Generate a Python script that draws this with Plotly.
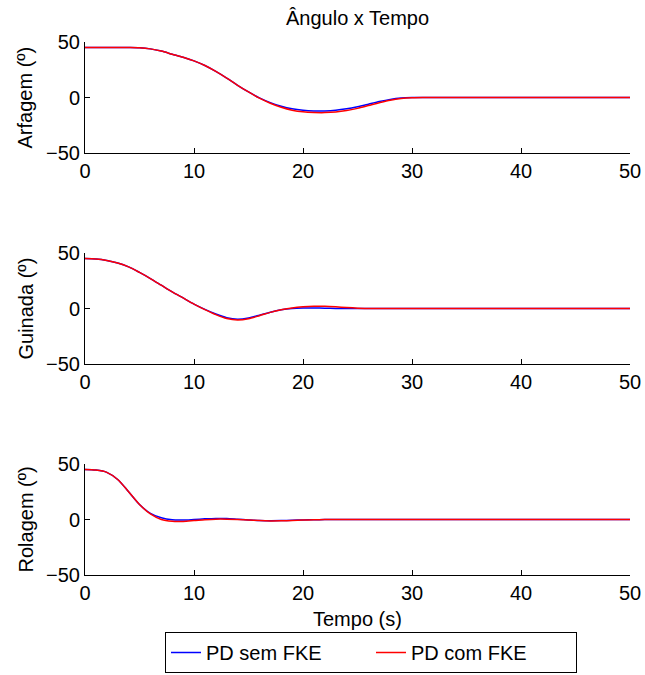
import plotly.graph_objects as go

# ---- data ----
t_pitch = [0, 1, 2, 3, 4, 5, 6, 7, 8, 9, 10, 11, 12, 13, 14, 15, 16, 17, 18, 19, 20,
           21, 22, 23, 24, 25, 26, 27, 28, 29, 30, 31, 35, 40, 45, 50]
pitch_sem = [45, 45, 45, 45, 45, 44.8, 43.8, 41.8, 39, 36.3, 33, 28.8, 23.5, 17.5, 11, 5, -0.3,
             -4.6, -7.9, -10.2, -11.5, -12.1, -12.1, -11.5, -10.2, -8.3, -6, -3.6, -1.7, -0.5,
             -0.1, 0, 0, 0, 0, 0]
pitch_com = [45, 45, 45, 45, 45, 44.8, 43.8, 41.8, 39, 36.3, 33, 28.8, 23.5, 17.5, 11, 5, -0.6,
             -5.2, -8.8, -11.4, -12.9, -13.5, -13.6, -13.1, -11.8, -9.8, -7.3, -4.7, -2.4, -0.9,
             -0.2, 0, 0, 0, 0, 0]

t_yaw = [0, 1, 2, 3, 4, 5, 6, 7, 8, 9, 10, 11, 12, 13, 14, 15, 16, 17, 18, 19, 20,
         21, 22, 23, 24, 25, 26, 27, 30, 35, 40, 45, 50]
yaw_sem = [45, 44.6, 43.3, 41, 37.5, 32.5, 27, 21, 15, 9.5, 4, -0.8, -5, -8.3, -9.6, -8.5, -6,
           -3.3, -1.2, 0, 0.4, 0.4, 0.3, 0.1, 0, 0, 0, 0, 0, 0, 0, 0, 0]
yaw_com = [45, 44.6, 43.3, 41, 37.5, 32.5, 27, 21, 15, 9.5, 4, -1, -5.5, -9, -10.3, -9.2, -6.5,
           -3.5, -1.2, 0.5, 1.5, 2, 2, 1.5, 0.8, 0.3, 0.1, 0, 0, 0, 0, 0, 0]

t_roll = [0, 1, 2, 3, 4, 5, 6, 7, 8, 9, 10, 11, 12, 13, 14, 15, 16, 17, 18, 19, 20,
          21, 22, 23, 25, 30, 35, 40, 45, 50]
roll_sem = [45, 44.5, 42.5, 36, 25, 13.5, 5.5, 1.5, -0.3, -0.5, 0, 0.6, 1, 0.8, 0.2, -0.4, -0.9,
            -1.1, -1, -0.7, -0.4, -0.2, -0.1, 0, 0, 0, 0, 0, 0, 0]
roll_com = [45, 44.5, 42.5, 36, 25, 13.5, 5, 0, -1.6, -1.7, -1, -0.2, 0.3, 0.3, 0, -0.5, -1,
            -1.3, -1.2, -0.9, -0.5, -0.3, -0.1, 0, 0, 0, 0, 0, 0, 0]

ylabels = ["Arfagem (º)", "Guinada (º)", "Rolagem (º)"]
series_names = ["PD sem FKE", "PD com FKE"]
x_ticks = [0, 10, 20, 30, 40, 50]
y_ticks = [-50, 0, 50]

FONT = "Liberation Sans, Arial, Helvetica, sans-serif"
FS = 20
W, H = 645, 675
x0, x1 = 85, 630
tops = [42, 253, 464]
bots = [153, 364, 575]

panels = [(t_pitch, pitch_sem, pitch_com), (t_yaw, yaw_sem, yaw_com), (t_roll, roll_sem, roll_com)]

fig = go.Figure()
for i, (tt, s1, s2) in enumerate(panels):
    xa = "x" if i == 0 else f"x{i+1}"
    ya = "y" if i == 0 else f"y{i+1}"
    fig.add_trace(go.Scatter(x=tt, y=s1, mode="lines", name=series_names[0],
                             line=dict(color="#0000FF", width=1.5, shape="spline", smoothing=0.8),
                             xaxis=xa, yaxis=ya, showlegend=(i == 0)))
    fig.add_trace(go.Scatter(x=tt, y=s2, mode="lines", name=series_names[1],
                             line=dict(color="#FF0000", width=1.5, shape="spline", smoothing=0.8),
                             xaxis=xa, yaxis=ya, showlegend=(i == 0)))

layout = dict(
    width=W, height=H, autosize=False,
    margin=dict(l=0, r=0, t=0, b=0, pad=0, autoexpand=False),
    paper_bgcolor="white", plot_bgcolor="white",
    font=dict(family=FONT, size=FS, color="black"),
    showlegend=True,
    legend=dict(orientation="h", x=371 / W, xanchor="center", y=2 / H, yanchor="bottom",
                bordercolor="black", borderwidth=1, font=dict(size=FS),
                entrywidth=160, entrywidthmode="pixels", bgcolor="white"),
)
annotations = []
for i in range(3):
    xk = "xaxis" if i == 0 else f"xaxis{i+1}"
    yk = "yaxis" if i == 0 else f"yaxis{i+1}"
    ya = "y" if i == 0 else f"y{i+1}"
    layout[xk] = dict(domain=[x0 / W, x1 / W], range=[0, 50], tickvals=x_ticks,
                      ticks="inside", ticklen=5, tickcolor="black", showline=True,
                      linecolor="black", linewidth=1, showgrid=False, zeroline=False,
                      anchor=ya, tickfont=dict(size=FS), mirror=False, automargin=False)
    layout[yk] = dict(domain=[1 - bots[i] / H, 1 - tops[i] / H], range=[-50, 50],
                      tickvals=y_ticks, ticktext=["\u221250", "0", "50"],
                      ticks="inside", ticklen=5, tickcolor="black", showline=True,
                      linecolor="black", linewidth=1, showgrid=False, zeroline=False,
                      anchor="x" if i == 0 else f"x{i+1}", tickfont=dict(size=FS),
                      automargin=False)
    annotations.append(dict(text=ylabels[i], xref="paper", yref="paper",
                            x=25 / W, y=1 - (tops[i] + bots[i]) / 2 / H,
                            textangle=-90, showarrow=False, font=dict(size=FS),
                            xanchor="center", yanchor="middle"))
annotations.append(dict(text="Ângulo x Tempo", xref="paper", yref="paper",
                        x=(x0 + x1) / 2 / W, y=1 - 18 / H, showarrow=False,
                        font=dict(size=FS), xanchor="center", yanchor="middle"))
annotations.append(dict(text="Tempo (s)", xref="paper", yref="paper",
                        x=(x0 + x1) / 2 / W, y=1 - 619 / H, showarrow=False,
                        font=dict(size=FS), xanchor="center", yanchor="middle"))
layout["annotations"] = annotations
fig.update_layout(**layout)
fig.write_html("out.html",
               post_script="document.body.style.margin='0';document.body.style.overflow='hidden';")
